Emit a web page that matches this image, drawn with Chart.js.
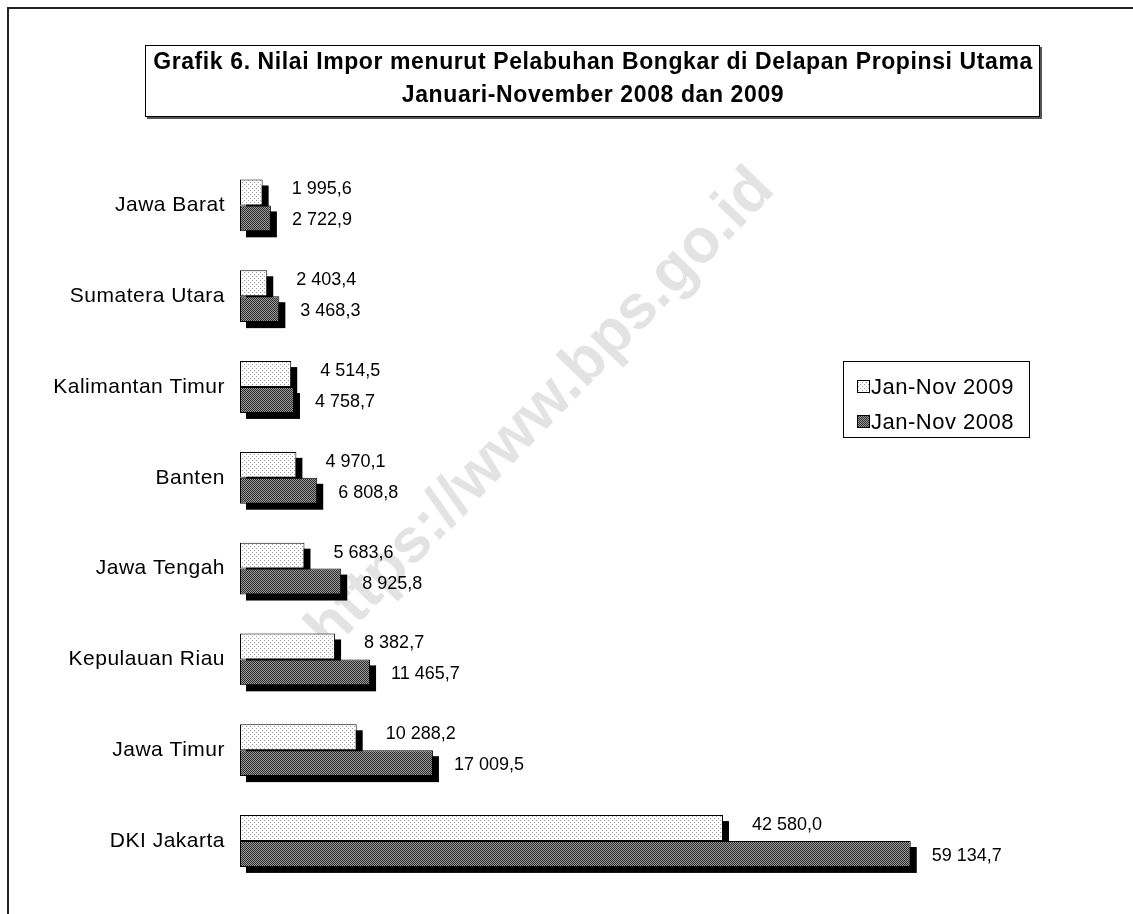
<!DOCTYPE html>
<html>
<head>
<meta charset="utf-8">
<script src="https://cdn.jsdelivr.net/npm/chart.js@4/dist/chart.umd.min.js"></script>
<style>
  html, body { margin: 0; padding: 0; background: #fff; }
  #wrap { width: 1133px; height: 914px; }
</style>
</head>
<body>
<div id="wrap"><canvas id="c" width="1133" height="914"></canvas></div>
<script>
// ---- DATA ----
const categories = ['Jawa Barat', 'Sumatera Utara', 'Kalimantan Timur', 'Banten', 'Jawa Tengah', 'Kepulauan Riau', 'Jawa Timur', 'DKI Jakarta'];
const values2009 = [1995.6, 2403.4, 4514.5, 4970.1, 5683.6, 8382.7, 10288.2, 42580.0];
const values2008 = [2722.9, 3468.3, 4758.7, 6808.8, 8925.8, 11465.7, 17009.5, 59134.7];
const seriesLabels = ['Jan-Nov 2009', 'Jan-Nov 2008'];
const titleLines = ['Grafik 6. Nilai Impor menurut Pelabuhan Bongkar di Delapan Propinsi Utama', 'Januari-November 2008 dan 2009'];
const watermarkText = 'https://www.bps.go.id';

const FONT = '"Liberation Sans", Arial, sans-serif';

function fmt(v) {
  const parts = v.toFixed(1).split('.');
  const intPart = parts[0].replace(/\B(?=(\d{3})+(?!\d))/g, ' ');
  return intPart + ',' + parts[1];
}

function makePattern(kind) {
  const c = document.createElement('canvas');
  const x = c.getContext('2d');
  if (kind === 'light') {
    c.width = 4; c.height = 4;
    x.fillStyle = '#ffffff'; x.fillRect(0, 0, 4, 4);
    x.fillStyle = '#9a9a9a';
    x.fillRect(0, 0, 1, 1);
    x.fillRect(2, 2, 1, 1);
  } else {
    c.width = 2; c.height = 2;
    x.fillStyle = '#9c9c9c'; x.fillRect(0, 0, 2, 2);
    x.fillStyle = '#2a2a2a';
    x.fillRect(0, 0, 1, 1);
    x.fillRect(1, 1, 1, 1);
  }
  return document.getElementById('c').getContext('2d').createPattern(c, 'repeat');
}
const patLight = makePattern('light');
const patDark = makePattern('dark');
const fills = [patLight, patDark];
const labelOffsets = [29, 21];
const labelDy = [-3, 2];

const framePlugin = {
  id: 'frame',
  beforeDraw(chart) {
    const ctx = chart.ctx;
    ctx.save();
    ctx.fillStyle = '#fff';
    ctx.fillRect(0, 0, chart.width, chart.height);
    // outer frame (top and left)
    ctx.strokeStyle = '#222';
    ctx.lineWidth = 2;
    ctx.beginPath();
    ctx.moveTo(8, chart.height);
    ctx.lineTo(8, 8);
    ctx.lineTo(chart.width, 8);
    ctx.stroke();
    // title box
    ctx.fillStyle = '#555';
    ctx.fillRect(147, 117, 895, 2);
    ctx.fillRect(1040, 47, 2, 72);
    ctx.strokeStyle = '#000';
    ctx.lineWidth = 1;
    ctx.strokeRect(145.5, 45.5, 894, 71);
    ctx.fillStyle = '#000';
    ctx.font = 'bold 23px ' + FONT;
    ctx.letterSpacing = '0.6px';
    ctx.textAlign = 'center';
    ctx.textBaseline = 'middle';
    ctx.fillText(titleLines[0], 593, 63);
    ctx.fillText(titleLines[1], 593, 96);
    ctx.restore();
    ctx.letterSpacing = '0.5px';
  },
  beforeDatasetsDraw(chart) {
    const ctx = chart.ctx;
    ctx.save();
    // watermark
    ctx.translate(541, 410);
    ctx.rotate(-46 * Math.PI / 180);
    ctx.fillStyle = 'rgba(200,200,200,0.5)';
    ctx.font = 'bold 62px ' + FONT;
    ctx.letterSpacing = '0px';
    ctx.textAlign = 'center';
    ctx.textBaseline = 'middle';
    ctx.fillText(watermarkText, 0, 0);
    ctx.restore();
    // shadows
    ctx.save();
    ctx.fillStyle = '#000';
    chart.data.datasets.forEach((ds, i) => {
      const meta = chart.getDatasetMeta(i);
      meta.data.forEach(el => {
        const p = el.getProps(['x', 'y', 'base', 'height'], true);
        ctx.fillRect(p.base + 6, p.y - p.height / 2 + 6, p.x - p.base, p.height);
      });
    });
    ctx.restore();
  },
  afterDatasetsDraw(chart) {
    const ctx = chart.ctx;
    ctx.save();
    ctx.fillStyle = '#000';
    ctx.font = '18px ' + FONT;
    ctx.letterSpacing = '0px';
    ctx.textAlign = 'left';
    ctx.textBaseline = 'middle';
    chart.data.datasets.forEach((ds, i) => {
      const meta = chart.getDatasetMeta(i);
      meta.data.forEach((el, j) => {
        const p = el.getProps(['x', 'y'], true);
        ctx.fillText(fmt(ds.data[j]), p.x + labelOffsets[i], p.y + labelDy[i]);
      });
    });
    ctx.restore();
  },
  afterDraw(chart) {
    const ctx = chart.ctx;
    ctx.save();
    ctx.strokeStyle = '#000';
    ctx.lineWidth = 1;
    ctx.strokeRect(843.5, 361.5, 186, 76);
    ctx.font = '22px ' + FONT;
    ctx.letterSpacing = '0.5px';
    ctx.textAlign = 'left';
    ctx.textBaseline = 'alphabetic';
    const rows = [380, 415];
    seriesLabels.forEach((lab, i) => {
      ctx.fillStyle = fills[i];
      ctx.fillRect(857, rows[i], 12, 13);
      ctx.strokeStyle = '#000';
      ctx.strokeRect(857.5, rows[i] + 0.5, 12, 12);
      ctx.fillStyle = '#000';
      ctx.fillText(lab, 871, rows[i] + 14);
    });
    ctx.restore();
  }
};

new Chart(document.getElementById('c'), {
  type: 'bar',
  data: {
    labels: categories,
    datasets: [
      { label: seriesLabels[0], data: values2009, backgroundColor: patLight, borderColor: '#000', borderWidth: 1, borderSkipped: false },
      { label: seriesLabels[1], data: values2008, backgroundColor: patDark, borderColor: '#000', borderWidth: 1, borderSkipped: false }
    ]
  },
  options: {
    indexAxis: 'y',
    responsive: false,
    animation: false,
    devicePixelRatio: 1,
    layout: { padding: { left: 0, top: 160, bottom: 26, right: 99 } },
    datasets: { bar: { categoryPercentage: 0.571, barPercentage: 1.0 } },
    plugins: { legend: { display: false }, tooltip: { enabled: false }, title: { display: false } },
    scales: {
      x: { display: false, min: 0, max: 70000 },
      y: {
        grid: { display: false, drawTicks: false },
        border: { display: false },
        ticks: { color: '#000', font: { family: FONT, size: 21 }, padding: 15 },
        afterFit(scale) { scale.width = 240; }
      }
    }
  },
  plugins: [framePlugin]
});
</script>
</body>
</html>
